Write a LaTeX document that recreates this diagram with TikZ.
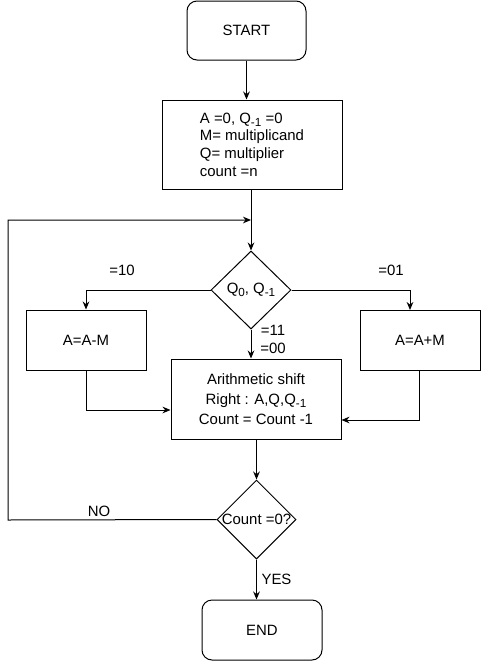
\documentclass[tikz,border=0pt]{standalone}
\usepackage{fontspec}
\setmainfont{Liberation Sans}
\usetikzlibrary{arrows.meta,shapes.geometric}
\newcommand\subx[1]{\raisebox{-2.6pt}{\fontsize{8.8}{10}\selectfont #1}}
\begin{document}
\begin{tikzpicture}[x=0.75pt,y=-0.75pt,
  every node/.style={font=\fontsize{11.2}{13}\selectfont},
  box/.style={draw,line width=0.75pt,inner sep=0pt,align=center},
  term/.style={box,rounded corners=7.5pt,minimum width=90pt,minimum height=45pt},
  dec/.style={draw,line width=0.75pt,diamond,inner sep=0pt},
  conn/.style={line width=0.75pt},
  arr/.style={conn,-{Stealth[length=6pt,width=5pt]}},
  lbl/.style={inner sep=0pt}]
\useasboundingbox (0,0) rectangle (482,661);
\node[term,minimum width=89.25pt,minimum height=44.25pt] (start) at (246.5,30.5) {START};
\node[box,minimum width=135pt,minimum height=66.75pt,align=left,
  font=\fontsize{11.2}{13.3}\selectfont] (init) at (252,144.5)
  {A =0, Q\subx{-1} =0\\M= multiplicand\\Q= multiplier\\count =n};
\node[dec,minimum width=60pt,minimum height=58.5pt,
  label={[lbl]center:Q\subx{0}, Q\subx{-1}}] (d1) at (251,290) {};
\node[box,minimum width=90pt,minimum height=45pt] (sub) at (86,340) {A=A-M};
\node[box,minimum width=90pt,minimum height=45pt] (add) at (420,340) {A=A+M};
\node[box,minimum width=127.5pt,minimum height=60pt,
  font=\fontsize{11.2}{15}\selectfont] (ash) at (256,399)
  {Arithmetic shift\\Right : A,Q,Q\subx{-1}\\Count = Count -1};
\node[dec,minimum width=59.25pt,minimum height=59.25pt,
  label={[lbl]center:Count =0?}] (d2) at (256.5,519.5) {};
\node[term] (end) at (262,630) {END};
\coordinate (fbl) at (8,520);
\coordinate (fbt) at (8,220);
\coordinate (fbm) at (251,220);
\coordinate (rin) at (410,310);
\draw[arr] (start.south) -- (start.south |- init.north);
\draw[arr] (init.south -| d1.north) -- (d1.north);
\draw[arr] (d2.west) -- (fbl) -- (fbt) -- (fbm);
\draw[arr] (d1.west) -| (sub.north);
\draw[arr] (d1.east) -| (rin);
\draw[arr] (d1.south) -- (d1.south |- ash.north);
\draw[arr] (sub.south) |- ([yshift=-8.25pt]ash.west);
\draw[arr] ([xshift=-0.75pt]add.south) |- ([yshift=-15.75pt]ash.east);
\draw[arr] (ash.south -| d2.north) -- (d2.north);
\draw[arr] (d2.south) -- (d2.south |- end.north);
\node[lbl] (l10) at (122,270) {=10};
\node[lbl] (l01) at (391,270) {=01};
\node[lbl] (l11) at (273,330) {=11};
\node[lbl] (l00) at (273,348) {=00};
\node[lbl] (lno) at (99,511) {NO};
\node[lbl] (lyes) at (276.5,579) {YES};
\end{tikzpicture}
\end{document}
